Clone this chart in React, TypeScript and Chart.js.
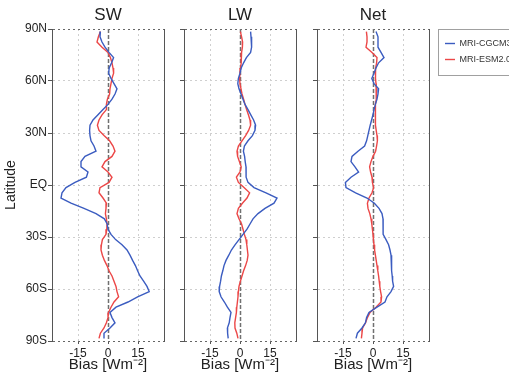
import React, { useEffect, useRef } from 'react';
import { Chart, registerables } from 'chart.js';

Chart.register(...registerables);

// ---------- data ----------
const latitudes = [
  88.5, 85.5, 82.5, 79.5, 76.5, 73.5, 70.5, 67.5, 64.5, 61.5,
  58.5, 55.5, 52.5, 49.5, 46.5, 43.5, 40.5, 37.5, 34.5, 31.5,
  28.5, 25.5, 22.5, 19.5, 16.5, 13.5, 10.5, 7.5, 4.5, 1.5,
  -1.5, -4.5, -7.5, -10.5, -13.5, -16.5, -19.5, -22.5, -25.5, -28.5,
  -31.5, -34.5, -37.5, -40.5, -43.5, -46.5, -49.5, -52.5, -55.5, -58.5,
  -61.5, -64.5, -67.5, -70.5, -73.5, -76.5, -79.5, -82.5, -85.5, -88.5,
];

const latTickValues = [-90, -60, -30, 0, 30, 60, 90];
const latTickLabels = ['90S', '60S', '30S', 'EQ', '30N', '60N', '90N'];
const biasTicks = [-15, 0, 15];
const biasRange = [-28, 28];

const seriesNames = ['MRI-CGCM3', 'MRI-ESM2.0'];
const panelTitles = ['SW', 'LW', 'Net'];

const swCGCM3 = [
  -3.8, -4, -3, -1.5, 0.5, 2.8, 1.8, 0.6, 0.3, 1.5,
  3, 4.5, 3.5, 2, 0, -2.5, -5, -7.5, -9, -9.2,
  -9, -8.5, -7, -6, -11.5, -13.5, -13.5, -10, -10.8, -16.5,
  -21, -23, -23.5, -18.5, -12, -6, -1.8, -0.4, 0, 1.5,
  3.8, 7, 9.5, 11, 12.3, 13.7, 14.8, 16, 17.8, 19.5,
  20.6, 14.8, 10, 4, 1, 2, 3.5, 1, -2, -2,
];
const swESM2 = [
  -3.8, -4.8, -5.5, -3, 0, 1.2, 2, 2.5, 2.8, 2,
  1.5, 1, 0.8, -0.3, -0.8, -0.8, -3, -4.5, -5.3, -4.5,
  -2, 0.8, 2.5, 3.5, 2, -1.5, -3, 0, 2, 0.5,
  -4, -4.5, -2.5, -0.8, -1, -1.3, -0.8, -0.5, -0.6, -1,
  -2.8, -3.3, -3.5, -2.8, -1.8, -0.5, 0.5, 2, 3, 4,
  4.5, 5.3, 3, 1.5, 0.3, 0, -0.8, -2, -3.8, -4.5,
];

const lwCGCM3 = [
  5.3, 5.5, 5.8, 5.8, 5.3, 3.2, 1.8, 0.6, 0, -0.8,
  -1.1, -0.5, 0.5, 1.5, 2.5, 4, 5.4, 6.8, 7.8, 7.5,
  6.2, 4, 2.2, 1.7, 2.3, 2.6, 3, 3.1, 3, 4,
  7, 13, 18.5, 17, 12.5, 9, 6.5, 5, 3.5, 1.5,
  -0.5, -2.5, -4.3, -5.6, -7, -8, -8.6, -9.3, -9.7, -10.2,
  -10.4, -9.5, -7.8, -6.3, -4.5, -5, -5.4, -6.3, -6.2, -5.9,
];
const lwESM2 = [
  0.2, 0.8, 1.3, 1.2, 0.8, 0.6, 0.6, 0.3, 0, -0.2,
  0, 0.5, 1, 1.8, 2.5, 3.3, 4.2, 5, 5.3, 4.3,
  2.8, 1, -0.8, -1.5, -1.2, -0.3, 0.6, 0, -1.8, -0.8,
  2, 4.8, 3.5, 1.2, -0.8, -1.5, -0.5, 0.8, 1.5, 2.2,
  3, 3.4, 3.7, 4, 3.6, 2.8, 1.8, 1, 0.2, -0.5,
  -0.8, -1, -1.3, -1.6, -1.8, -2.2, -2.6, -2.5, -1.6, -1,
];

const netCGCM3 = [
  1.5, 2.5, 2.5, 2.5, 4, 5.5, 2.8, 1.5, 0.5, -0.6,
  0.5, 2.8, 2.5, 2, 1.2, 0.5, 0, -0.7, -1.4, -2,
  -2.6, -3.2, -4.2, -7.5, -10.5, -11, -9, -7.2, -11, -13.8,
  -13.5, -8.7, -3, 0.7, 3, 4.5, 5, 5, 5, 5.2,
  6.5, 7.8, 8.5, 9, 9.2, 9.3, 9.4, 9.6, 9.8, 10.3,
  9, 7, 6, 2, -2, -3.2, -3.8, -5.5, -7.8, -8.5,
];
const netESM2 = [
  -3.3, -3, -3, -3.5, -0.5, 2, 1.8, 1.3, 1.2, 1.3,
  1.5, 1.6, 1.7, 1.6, 1.2, 1, 1.2, 1.4, 1.3, 1.6,
  2, 2.2, 1.8, 1.3, 0, -1, -1.7, -1.2, -0.5, -0.3,
  0.3, -0.5, -2, -2.8, -2.5, -1.6, -1, -0.6, -0.3, 0,
  0.2, 0.5, 0.8, 1.2, 1.6, 2, 2.4, 2.8, 3.1, 3.4,
  3.8, 4.3, 4, 1.5, -1.5, -2.8, -3.7, -5.2, -5.5, -5.8,
];

// ---------- styling / layout ----------
const FONT = "'Liberation Sans', Arial, Helvetica, sans-serif";
const BLUE = '#3b5cc0';
const RED = '#ec4747';
const TEXT = '#222';
const FRAME = '#555';
const GRID = '#cfcfcf';

type PanelSpec = {
  title: string;
  cgcm3: number[];
  esm2: number[];
  left: number;
  width: number;
  yAxisWidth: number;
  rightGap: number;
  showYLabels: boolean;
  showLegend: boolean;
};

const panels: PanelSpec[] = [
  { title: panelTitles[0], cgcm3: swCGCM3, esm2: swESM2, left: 0, width: 176, yAxisWidth: 52, rightGap: 12, showYLabels: true, showLegend: false },
  { title: panelTitles[1], cgcm3: lwCGCM3, esm2: lwESM2, left: 176, width: 132, yAxisWidth: 8, rightGap: 12, showYLabels: false, showLegend: false },
  { title: panelTitles[2], cgcm3: netCGCM3, esm2: netESM2, left: 308, width: 201, yAxisWidth: 9, rightGap: 9, showYLabels: false, showLegend: true },
];

// dashed zero-bias reference line, placed through the x scale
const zeroLinePlugin = {
  id: 'zeroLine',
  beforeDatasetsDraw(chart: any) {
    const xs = chart.scales.x;
    const area = chart.chartArea;
    const px = Math.round(xs.getPixelForValue(0)) + 0.5;
    const ctx = chart.ctx;
    ctx.save();
    ctx.strokeStyle = '#707070';
    ctx.lineWidth = 1.5;
    ctx.setLineDash([4, 2]);
    ctx.beginPath();
    ctx.moveTo(px, area.top);
    ctx.lineTo(px, area.bottom);
    ctx.stroke();
    ctx.restore();
  },
};

const legendFramePlugin = {
  id: 'legendFrame',
  afterDraw(chart: any) {
    const lg = chart.legend;
    if (!lg || !lg.options.display || !lg.legendHitBoxes || !lg.legendHitBoxes.length) return;
    const boxes = lg.legendHitBoxes;
    const last = boxes[boxes.length - 1];
    const top = chart.chartArea.top;
    const bottom = last.top + last.height + 11;
    const ctx = chart.ctx;
    ctx.save();
    ctx.strokeStyle = '#a0a0a0';
    ctx.lineWidth = 1;
    ctx.strokeRect(Math.round(lg.left) + 0.5, Math.round(top) + 0.5, lg.width + 20, Math.round(bottom - top));
    ctx.restore();
  },
};

function buildConfig(p: PanelSpec): any {
  const toPoints = (vals: number[]) => latitudes.map((lat, i) => ({ x: vals[i], y: lat }));
  const lineDs = (label: string, vals: number[], color: string) => ({
    label,
    data: toPoints(vals),
    borderColor: color,
    backgroundColor: color,
    showLine: true,
    pointRadius: 0,
    borderWidth: 1.4,
    tension: 0,
  });
  return {
    type: 'scatter',
    data: {
      datasets: [
        lineDs(seriesNames[0], p.cgcm3, BLUE),
        lineDs(seriesNames[1], p.esm2, RED),
      ],
    },
    options: {
      animation: false,
      responsive: false,
      maintainAspectRatio: false,
      events: [],
      layout: { padding: 0 },
      plugins: {
        title: {
          display: true,
          text: p.title,
          fullSize: false,
          color: TEXT,
          font: { family: FONT, size: 17, weight: 'normal', lineHeight: 1.2 },
          padding: { top: 5.3, bottom: 3.3 },
        },
        legend: p.showLegend
          ? {
              display: true,
              position: 'right',
              align: 'start',
              fullSize: false,
              maxWidth: 71,
              title: { display: true, text: '', font: { size: 1, lineHeight: 1 }, padding: { top: 1, bottom: 1 } },
              labels: {
                usePointStyle: true,
                pointStyle: 'line',
                pointStyleWidth: 10,
                padding: 7,
                color: '#333',
                font: { family: FONT, size: 9 },
              },
            }
          : { display: false },
        tooltip: { enabled: false },
      },
      scales: {
        x: {
          type: 'linear',
          position: 'bottom',
          min: biasRange[0],
          max: biasRange[1],
          afterBuildTicks: (s: any) => {
            s.ticks = biasTicks.map((v) => ({ value: v }));
          },
          afterFit: (s: any) => {
            s.height = 33;
          },
          grid: {
            color: (c: any) => (c.tick && c.tick.value === 0 ? 'rgba(0,0,0,0)' : GRID),
            tickColor: FRAME,
            tickLength: 3,
            tickBorderDash: [],
          },
          border: { display: false, dash: [2, 3] },
          ticks: {
            color: TEXT,
            font: { family: FONT, size: 12 },
            padding: 2,
            maxRotation: 0,
            autoSkip: false,
          },
          title: {
            display: true,
            text: 'Bias [Wm\u207B\u00B2]',
            color: TEXT,
            font: { family: FONT, size: 15 },
            padding: { top: 0, bottom: 0 },
          },
        },
        y: {
          type: 'linear',
          position: 'left',
          min: latTickValues[0],
          max: latTickValues[latTickValues.length - 1],
          afterBuildTicks: (s: any) => {
            s.ticks = latTickValues.map((v) => ({ value: v }));
          },
          afterFit: (s: any) => {
            s.width = p.yAxisWidth;
          },
          grid: {
            color: (c: any) => (c.tick && Math.abs(c.tick.value) === 90 ? '#666' : GRID),
            tickColor: FRAME,
            tickLength: 4,
            tickBorderDash: [],
          },
          border: { display: true, color: FRAME, width: 1, dash: [2, 3] },
          ticks: {
            display: p.showYLabels,
            color: TEXT,
            font: { family: FONT, size: 12 },
            padding: 1,
            autoSkip: false,
            callback: (v: number) => latTickLabels[latTickValues.indexOf(v)],
          },
          title: {
            display: p.showYLabels,
            text: 'Latitude',
            color: TEXT,
            font: { family: FONT, size: 14 },
            padding: { top: 3, bottom: 0 },
          },
        },
        y2: {
          type: 'linear',
          position: 'right',
          min: 0,
          max: 1,
          afterFit: (s: any) => {
            s.width = p.rightGap;
          },
          ticks: { display: false },
          grid: { display: false, drawTicks: false },
          border: { display: true, color: FRAME, width: 1 },
        },
      },
    },
    plugins: p.showLegend ? [zeroLinePlugin, legendFramePlugin] : [zeroLinePlugin],
  };
}

export default function App() {
  const r0 = useRef<HTMLCanvasElement>(null);
  const r1 = useRef<HTMLCanvasElement>(null);
  const r2 = useRef<HTMLCanvasElement>(null);
  const refs = [r0, r1, r2];

  useEffect(() => {
    document.body.style.margin = '0';
    document.body.style.overflow = 'hidden';
    const charts = panels.map((p, i) => new Chart(refs[i].current as HTMLCanvasElement, buildConfig(p)));
    return () => charts.forEach((c) => c.destroy());
  }, []);

  return (
    <div style={{ position: 'relative', width: 509, height: 374, overflow: 'hidden', background: '#fff' }}>
      {panels.map((p, i) => (
        <canvas
          key={p.title}
          ref={refs[i]}
          width={p.width}
          height={374}
          style={{ position: 'absolute', left: p.left, top: 0, width: p.width, height: 374, display: 'block' }}
        />
      ))}
    </div>
  );
}
